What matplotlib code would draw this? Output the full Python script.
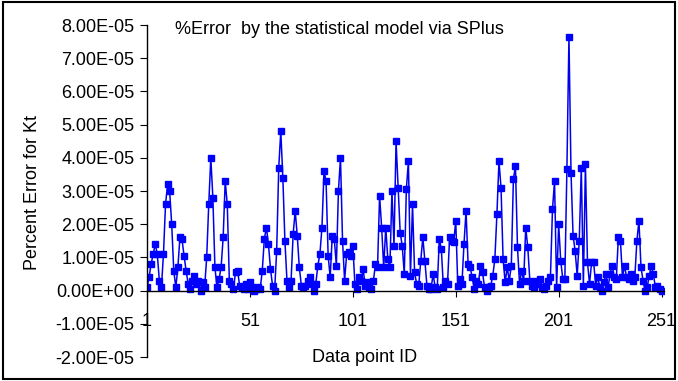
import matplotlib as mpl
mpl.use('Agg')

import numpy as np
import matplotlib.pyplot as plt
from matplotlib.patches import Rectangle
from matplotlib.ticker import FuncFormatter

# percent error values, in units of 1E-05, data points 1..251
err_e5 = [
    0.1, 0.4, 0.8, 1.1, 1.4, 1.1, 0.3, 0.1, 1.1, 2.6,
    3.2, 3.0, 2.0, 0.6, 0.1, 0.7, 1.6, 1.55, 1.05, 0.6,
    0.2, 0.05, 0.3, 0.45, 0.2, 0.3, 0.0, 0.25, 0.1, 1.0,
    2.6, 4.0, 2.8, 0.7, 0.1, 0.35, 0.7, 1.6, 3.3, 2.6,
    0.3, 0.2, 0.05, 0.55, 0.6, 0.15, 0.1, 0.05, 0.2, 0.05,
    0.25, 0.1, 0.0, 0.05, 0.1, 0.05, 0.6, 1.55, 1.9, 1.4,
    0.65, 0.15, 0.0, 1.2, 3.7, 4.8, 3.4, 1.5, 0.3, 0.1,
    0.3, 1.7, 2.4, 1.65, 0.7, 0.15, 0.1, 0.15, 0.3, 0.4,
    0.2, 0.0, 0.2, 0.75, 1.1, 1.9, 3.6, 3.3, 1.05, 0.4,
    1.65, 1.55, 0.75, 3.0, 4.0, 1.5, 0.3, 1.1, 1.15, 1.05,
    1.35, 0.2, 0.05, 0.4, 0.3, 0.65, 0.15, 0.25, 0.1, 0.05,
    0.3, 0.8, 0.7, 2.85, 1.9, 0.7, 1.9, 0.95, 0.7, 3.0,
    1.35, 4.5, 3.1, 1.75, 1.35, 0.5, 3.05, 3.9, 0.45, 2.6,
    0.55, 0.2, 0.15, 0.9, 1.6, 0.9, 0.15, 0.05, 0.05, 0.5,
    0.1, 0.05, 1.55, 1.25, 0.1, 0.3, 0.2, 1.6, 1.5, 1.45,
    2.1, 0.15, 0.35, 0.2, 1.4, 2.4, 0.8, 0.7, 0.4, 0.05,
    0.3, 0.2, 0.75, 0.55, 0.1, 0.0, 0.1, 0.15, 0.45, 0.95,
    2.3, 3.9, 3.1, 0.95, 0.25, 0.7, 0.3, 0.75, 3.35, 3.75,
    1.3, 0.2, 0.6, 0.3, 1.9, 1.3, 0.3, 0.15, 0.1, 0.3,
    0.2, 0.35, 0.1, 0.05, 0.15, 0.3, 0.4, 2.45, 3.3, 0.1,
    2.0, 0.9, 0.35, 0.35, 3.65, 7.65, 3.55, 1.65, 1.2, 0.45,
    1.5, 3.7, 0.15, 3.8, 0.85, 0.2, 0.85, 0.85, 0.15, 0.4,
    0.1, 0.0, 0.25, 0.5, 0.1, 0.5, 0.75, 0.4, 0.35, 1.6,
    1.5, 0.4, 0.75, 0.4, 0.35, 0.5, 0.3, 0.4, 1.5, 2.1,
    0.7, 0.3, 0.0, 0.1, 0.45, 0.75, 0.5, 0.1, 0.15, 0.05,
    0.0,
]
point_id = np.arange(1, len(err_e5) + 1)
err = np.array(err_e5) * 1e-5

x_ticks = [1, 51, 101, 151, 201, 251]
y_ticks = np.arange(-2, 9) * 1e-5

plt.rcParams['font.family'] = ['Liberation Sans', 'DejaVu Sans']

fig = plt.figure(figsize=(6.78, 3.81), dpi=100)
ax = fig.add_axes([147 / 678, 1 - 357 / 381, 0.762, (357 - 25) / 381])

ax.plot(point_id, err, color='#0000ee', lw=1.1, marker='s', ms=5,
        mfc='#0000ff', mec='#0000ff')

ax.set_xlim(1, 252)
ax.set_ylim(-2e-5, 8e-5)
ax.set_xticks(x_ticks)
ax.set_yticks(y_ticks)

def sci(v, pos):
    s = '%.2E' % v
    if abs(v) < 1e-12:
        s = '0.00E+00'
    return s

ax.yaxis.set_major_formatter(FuncFormatter(sci))
ax.spines['top'].set_visible(False)
ax.spines['right'].set_visible(False)
ax.spines['bottom'].set_position(('data', 0))
ax.spines['bottom'].set_linewidth(1.0)
ax.spines['left'].set_linewidth(1.0)
ax.tick_params(axis='y', direction='out', length=5, labelsize=13, pad=4)
ax.tick_params(axis='x', direction='out', length=4, labelsize=13, pad=12)

fig.text(175 / 678, 1 - 29 / 381, '%Error  by the statistical model via SPlus',
         fontsize=13, va='center', ha='left')
fig.text(365 / 678, 1 - 357 / 381, 'Data point ID', fontsize=13,
         va='center', ha='center')
fig.text(33 / 678, 1 - 193 / 381, 'Percent Error for Kt', fontsize=13,
         va='center', ha='center', rotation=90)

fig.patches.append(Rectangle((0.004, 0.005), 0.992, 0.99, transform=fig.transFigure,
                             fill=False, edgecolor='black', lw=1.5))

plt.savefig('out.png', dpi=100)
